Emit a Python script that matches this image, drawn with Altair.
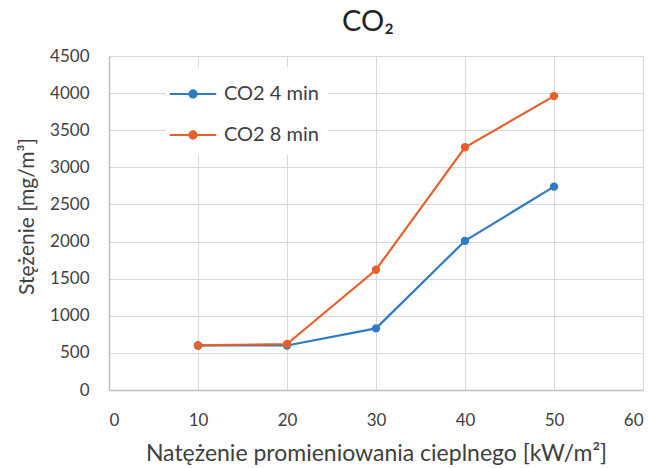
import altair as alt
import pandas as pd

# Heat flux levels [kW/m2] and measured CO2 concentration [mg/m3]
flux = [10, 20, 30, 40, 50]
co2_4min = [600, 600, 830, 2010, 2740]
co2_8min = [600, 620, 1620, 3270, 3960]
series_names = ["CO2 4 min", "CO2 8 min"]
series_colors = ["#2F7BC4", "#E5602A"]

rows = []
for name, values in zip(series_names, [co2_4min, co2_8min]):
    for x, y in zip(flux, values):
        rows.append({"flux": x, "co2": y, "series": name})
df = pd.DataFrame(rows)

FONT = "Lato"
TEXT = "#404040"

# legend glyph: a short line (wider than the unit box) with a dot in the middle
line_dot = "M-1.5,0L1.5,0M-0.23,0A0.23,0.23 0 1 1 0.23,0A0.23,0.23 0 1 1 -0.23,0Z"

chart = (
    alt.Chart(df)
    .mark_line(strokeWidth=2.2, point=alt.OverlayMarkDef(filled=True, size=70))
    .encode(
        x=alt.X(
            "flux:Q",
            scale=alt.Scale(domain=[0, 60], nice=False),
            axis=alt.Axis(
                values=[0, 10, 20, 30, 40, 50, 60],
                format="d",
                title="Natężenie promieniowania cieplnego [kW/m²]",
                labelPadding=22,
                titlePadding=14,
                titleFontSize=23,
            ),
        ),
        y=alt.Y(
            "co2:Q",
            scale=alt.Scale(domain=[0, 4500], nice=False),
            axis=alt.Axis(
                values=list(range(0, 4501, 500)),
                format="d",
                title="Stężenie [mg/m³]",
                labelPadding=20,
                titlePadding=12,
                titleFontSize=21,
                titleY=160,
            ),
        ),
        color=alt.Color(
            "series:N",
            scale=alt.Scale(domain=series_names, range=series_colors),
            legend=alt.Legend(
                title=None,
                orient="none",
                legendX=57,
                legendY=11,
                symbolType=line_dot,
                symbolSize=961,
                symbolStrokeWidth=2.2,
                labelFontSize=20,
                labelFont=FONT,
                labelColor=TEXT,
                rowPadding=14,
                labelOffset=14,
                fillColor="white",
                padding=10,
            ),
        ),
    )
    .properties(
        width=534,
        height=334,
        autosize=alt.AutoSizeParams(type="none"),
        padding={"left": 109, "top": 56, "right": 18, "bottom": 78},
        title=alt.TitleParams(
            "CO₂", fontSize=29, font=FONT, fontWeight="normal", color="#222",
            offset=10, dx=-8,
        ),
    )
    .configure_view(stroke=None)
    .configure_axis(
        gridColor="#d9d9d9",
        domainColor="#bfbfbf",
        domainWidth=1.5,
        ticks=False,
        labelFont=FONT,
        labelFontSize=17,
        labelColor=TEXT,
        titleFont=FONT,
        titleFontWeight="normal",
        titleColor=TEXT,
    )
)

chart.save("out.html", embed_options={"renderer": "svg", "actions": False})
